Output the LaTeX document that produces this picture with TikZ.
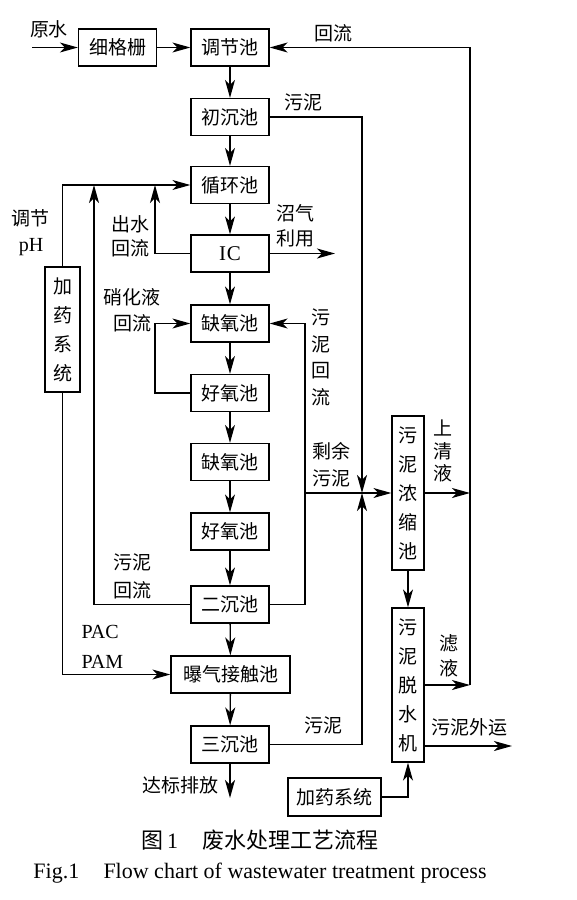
\documentclass[tikz,border=0pt]{standalone}
\usepackage{fontspec}
\setmainfont{Liberation Serif}
\newfontfamily\cjk{Noto Sans CJK SC}
\usetikzlibrary{arrows.meta}
\begin{document}
\begin{tikzpicture}[x=1pt,y=-1pt,
  line width=1.3pt,
  box/.style={draw, line width=1.3pt, minimum width=78pt, minimum height=37pt, inner sep=0pt, font=\cjk\fontsize{19}{19}\selectfont},
  vbox/.style={draw, line width=1.3pt, minimum width=32pt, inner sep=0pt, align=center, font=\cjk\fontsize{19}{29}\selectfont},
  lab/.style={inner sep=0pt, align=center, font=\cjk\fontsize{19}{25}\selectfont},
  latin/.style={inner sep=0pt, align=center, font=\fontsize{20}{30}\selectfont},
  arr/.style={-{Stealth[length=18pt,width=10pt,inset=5pt]}},
]
\fill[white] (0,0) rectangle (576,900);
\useasboundingbox (0,0) rectangle (576,900);

% boxes
\node[box] (xg) at (117.5,47.5) {细格栅};
\node[box] (tj) at (230,47.5) {调节池};
\node[box] (cc) at (230,117) {初沉池};
\node[box] (xh) at (230,185) {循环池};
\node[box, font=\fontsize{21}{21}\selectfont] (ic) at (230,253.5) {I\kern1pt C};
\node[box] (qy1) at (230,323.5) {缺氧池};
\node[box] (hy1) at (230,393) {好氧池};
\node[box] (qy2) at (230,462) {缺氧池};
\node[box] (hy2) at (230,531.5) {好氧池};
\node[box] (ec) at (230,604.5) {二沉池};
\node[box, minimum width=119pt] (bq) at (230.5,674.5) {曝气接触池};
\node[box] (sc) at (230,744.5) {三沉池};
\node[vbox, minimum width=35pt, minimum height=125pt] (jy1) at (62.5,329.5) {加\\药\\系\\统};
\node[vbox, minimum height=154pt] (ns) at (408,493) {污\\泥\\浓\\缩\\池};
\node[vbox, minimum height=154pt] (ts) at (408,685) {污\\泥\\脱\\水\\机};
\node[box, minimum width=93pt, minimum height=38pt] (jy2) at (334.5,797) {加药系统};

% coordinates
\coordinate (ys) at (32,47.5);
\coordinate (r1) at (470,47.5);
\coordinate (r2) at (470,685);
\coordinate (r3) at (470,493);
\coordinate (j) at (362,493);
\coordinate (s1) at (305,493);
\coordinate (s0) at (305,323.5);
\coordinate (t1) at (94,185);
\coordinate (t2) at (155,185);
\coordinate (n0) at (155,323.5);
\coordinate (bg) at (335,253.5);
\coordinate (out) at (230,798);
\coordinate (w1) at (512,746);

% main flow
\draw[arr] (ys) -- (xg.west);
\draw[arr] (xg) -- (tj);
\draw[arr] (tj) -- (cc);
\draw[arr] (cc) -- (xh);
\draw[arr] (xh) -- (ic);
\draw[arr] (ic) -- (qy1);
\draw[arr] (qy1) -- (hy1);
\draw[arr] (hy1) -- (qy2);
\draw[arr] (qy2) -- (hy2);
\draw[arr] (hy2) -- (ec);
\draw[arr] (ec) -- (bq);
\draw[arr] (bq) -- (sc);
\draw[arr] (sc) -- (out);

% right returns
\draw[arr] (r2) -- (r1) -- (tj.east);
\draw[arr] (ts.east) -- (r2);
\draw[arr] (ns.east) -- (r3);
\draw[arr] (cc.east) -| (j);
\draw[arr] (sc.east) -| (j);
\draw[arr] (s1) -- (ns.west);
\draw[arr] (ec.east) -| (s0) -- (qy1.east);
\draw[arr] (ns) -- (ts);
\draw[arr] (ts.east |- w1) -- (w1);
\draw[arr] (jy2.east) -| (ts.south);
\draw[arr] (ic.east) -- (bg);

% left returns
\draw[arr] (jy1.north) -- (jy1.north |- xh.west) -- (xh.west);
\draw[arr] (ec.west) -| (t1);
\draw[arr] (ic.west) -| (t2);
\draw[arr] (hy1.west) -| (n0) -- (qy1.west);
\draw[arr] (jy1.south) |- (bq.west);

% labels
\node[lab] (l1) at (49,29) {原水};
\node[lab] (l2) at (333,33) {回流};
\node[lab] (l3) at (303,102) {污泥};
\node[lab] (l4) at (31,218) {调节};
\node[latin] (l5) at (31,247) {pH};
\node[lab, font=\cjk\fontsize{19}{24}\selectfont] (l6) at (130,236.5) {出水\\回流};
\node[lab] (l7) at (295,225.5) {沼气\\利用};
\node[lab, font=\cjk\fontsize{19}{26}\selectfont] (l8) at (132,310) {硝化液\\回流};
\node[lab, font=\cjk\fontsize{19}{26.5}\selectfont] (l9) at (321,357.5) {污\\泥\\回\\流};
\node[lab, font=\cjk\fontsize{19}{26.5}\selectfont] (l10) at (331,464.5) {剩余\\污泥};
\node[lab, font=\cjk\fontsize{19}{22.5}\selectfont] (l11) at (443,451) {上\\清\\液};
\node[lab] (l12) at (449,655.5) {滤\\液};
\node[lab, font=\cjk\fontsize{19}{28}\selectfont] (l13) at (132,576) {污泥\\回流};
\node[latin, anchor=west] (l14) at (81,632) {PAC};
\node[latin, anchor=west] (l15) at (81,662) {PAM};
\node[lab] (l16) at (323,725) {污泥};
\node[lab] (l17) at (469,727) {污泥外运};
\node[lab] (l18) at (180,785) {达标排放};

% captions
\node[inner sep=0pt, font=\fontsize{22}{22}\selectfont] (cap1) at (260,840) {{\cjk 图}\,1\hspace{1.1em}{\cjk 废水处理工艺流程}};
\node[inner sep=0pt, font=\fontsize{22}{22}\selectfont] (cap2) at (260,873) {Fig.1\hspace{1.1em}Flow chart of wastewater treatment process};
\end{tikzpicture}
\end{document}
